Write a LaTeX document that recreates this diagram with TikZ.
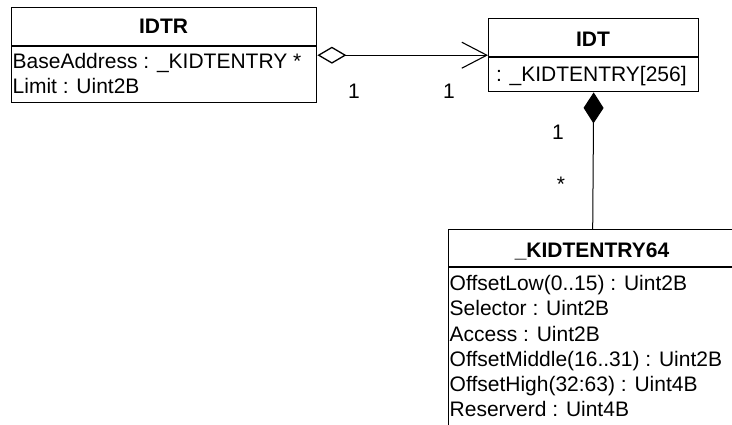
\documentclass[tikz,border=0pt]{standalone}
\usepackage{fontspec}
\setmainfont{Liberation Sans}
\usetikzlibrary{arrows.meta}
\begin{document}
\begin{tikzpicture}[x=1pt,y=-1pt,
  every node/.style={font=\fontsize{21}{25}\selectfont, inner sep=0pt},
  classbox/.style={draw, line width=1.4pt, rectangle, anchor=north west},
  sep/.style={line width=1.4pt},
  attr/.style={anchor=base west},
  ttl/.style={anchor=base, font=\fontsize{21}{25}\selectfont\bfseries},
  mult/.style={anchor=base},
  conn/.style={line width=1pt}
]
\useasboundingbox (0,0) rectangle (732,424);
\clip (0,0) rectangle (732,424);
\fill[white] (0,0) rectangle (732,424);

% IDTR
\node[classbox, minimum width=305pt, minimum height=95pt] (idtr) at (11,7) {};
\draw[sep] (idtr.west |- 0,46) -- (idtr.east |- 0,46);
\node[ttl] (idtrT) at (163.5,33) {IDTR};
\node[attr] (idtrA1) at (12.5,68.5) {BaseAddress : \_KIDTENTRY *};
\node[attr] (idtrA2) at (12.5,93.5) {Limit : Uint2B};

% IDT
\node[classbox, minimum width=210pt, minimum height=73pt] (idt) at (488,18) {};
\draw[sep] (idt.west |- 0,57) -- (idt.east |- 0,57);
\node[ttl] (idtT) at (593,46) {IDT};
\node[attr] (idtA1) at (490,81) {\ : \_KIDTENTRY[256]};

% _KIDTENTRY64
\node[classbox, minimum width=288pt, minimum height=205pt] (kid) at (448,229) {};
\draw[sep] (kid.west |- 0,267) -- (kid.east |- 0,267);
\node[ttl] (kidT) at (592,257) {\_KIDTENTRY64};
\node[attr] (kidA1) at (449.5,290.7) {OffsetLow(0..15) : Uint2B};
\node[attr] (kidA2) at (449.5,315.9) {Selector : Uint2B};
\node[attr] (kidA3) at (449.5,341.1) {Access : Uint2B};
\node[attr] (kidA4) at (449.5,366.3) {OffsetMiddle(16..31) : Uint2B};
\node[attr] (kidA5) at (449.5,391.5) {OffsetHigh(32:63) : Uint4B};
\node[attr] (kidA6) at (449.5,416.7) {Reserverd : Uint4B};

% connectors
\draw[conn, {Diamond[open, length=29pt, width=17pt, line width=1.3pt]}-{Straight Barb[length=25pt, width=26pt, line width=1.1pt]}]
  (idtr.east |- idt.west) -- (idt.west);
\draw[conn, {Diamond[length=31pt, width=20pt]}-] (idt.south) -- (kid.north);

% multiplicities
\node[mult] (m1) at (354,98) {1};
\node[mult] (m2) at (449,98) {1};
\node[mult] (m3) at (558,139) {1};
\node[mult] (m4) at (561,191) {*};
\end{tikzpicture}
\end{document}
